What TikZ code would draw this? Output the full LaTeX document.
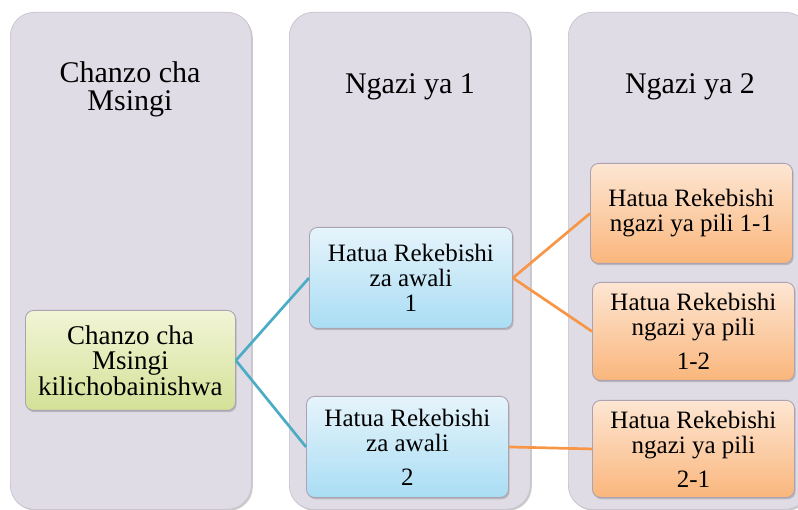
\documentclass[tikz,border=0pt]{standalone}
\usepackage{fontspec}
\setmainfont{Liberation Serif}
\usetikzlibrary{shadows}
\definecolor{colfill}{HTML}{E0DCE6}
\definecolor{colline}{HTML}{C4BECC}
\definecolor{greentop}{HTML}{F2F5D6}
\definecolor{greenbot}{HTML}{D3E197}
\definecolor{bluetop}{HTML}{E6F4FB}
\definecolor{bluebot}{HTML}{A9DDF4}
\definecolor{orangetop}{HTML}{FDE6D3}
\definecolor{orangebot}{HTML}{FAB67C}
\definecolor{boxline}{HTML}{ABA3B2}
\definecolor{linkblue}{HTML}{4BACC6}
\definecolor{linkorange}{HTML}{F79646}
\tikzset{
  column/.style={fill=colfill, draw=colline, line width=0.6pt, rounded corners=24pt,
    drop shadow={shadow xshift=1.5pt, shadow yshift=-1.5pt, opacity=0.4},
    minimum width=241pt, minimum height=497pt, anchor=north west, inner sep=0pt},
  header/.style={align=center, font=\fontsize{30}{28}\selectfont, inner sep=0pt},
  itembox/.style={draw=boxline, line width=0.9pt, rounded corners=8pt,
    drop shadow={shadow xshift=1.2pt, shadow yshift=-1.8pt, opacity=0.4},
    anchor=north west, inner sep=0pt},
  itemtext/.style={align=center, inner sep=0pt},
  greenbox/.style={itembox, top color=greentop, bottom color=greenbot},
  bluebox/.style={itembox, top color=bluetop, bottom color=bluebot},
  orangebox/.style={itembox, top color=orangetop, bottom color=orangebot},
  bluelink/.style={draw=linkblue, line width=2.7pt},
  orangelink/.style={draw=linkorange, line width=2.7pt},
}
\begin{document}
\begin{tikzpicture}[x=1pt, y=-1pt]
  \useasboundingbox (0,0) rectangle (798,510);
  \begin{scope}
    \clip (0,0) rectangle (798,510);
    % the three stage columns
    \node[column] (c1) at (10,12) {};
    \node[column] (c2) at (289,12) {};
    \node[column] (c3) at (568,12) {};
  \end{scope}

  % column headings
  \node[header] (h1) at (130,89) {Chanzo cha\\Msingi};
  \node[header] (h2) at (410,87) {Ngazi ya 1};
  \node[header] (h3) at (690,87) {Ngazi ya 2};

  % boxes
  \node[greenbox, minimum width=210pt, minimum height=100pt] (g) at (25,310) {};
  \node[itemtext, font=\fontsize{27}{25.5}\selectfont] at (g.center) {Chanzo cha\\Msingi\\kilichobainishwa};

  \node[bluebox, minimum width=203pt, minimum height=101pt] (b1) at (309,227) {};
  \node[itemtext, font=\fontsize{25}{25}\selectfont] at (b1.center) {Hatua Rekebishi\\za awali\\1};

  \node[bluebox, minimum width=202pt, minimum height=101pt] (b2) at (306,396) {};
  \node[itemtext, font=\fontsize{25}{25}\selectfont] at (b2.center) {Hatua Rekebishi\\za awali\\[9pt]2};

  \node[orangebox, minimum width=202pt, minimum height=100pt] (o1) at (590,163) {};
  \node[itemtext, font=\fontsize{25}{25}\selectfont] at (o1.center) {Hatua Rekebishi\\ngazi ya pili 1-1};

  \node[orangebox, minimum width=202pt, minimum height=98pt] (o2) at (592,282) {};
  \node[itemtext, font=\fontsize{25}{25}\selectfont] at (o2.center) {Hatua Rekebishi\\ngazi ya pili\\[9pt]1-2};

  \node[orangebox, minimum width=202pt, minimum height=97pt] (o3) at (592,400) {};
  \node[itemtext, font=\fontsize{25}{25}\selectfont] at (o3.center) {Hatua Rekebishi\\ngazi ya pili\\[9pt]2-1};

  % connectors
  \draw[bluelink] (g.east) -- (b1.west);
  \draw[bluelink] (g.east) -- (b2.west);
  \draw[orangelink] (b1.east) -- (o1.west);
  \draw[orangelink] (b1.east) -- (o2.west);
  \draw[orangelink] (b2.east) -- (o3.west);
\end{tikzpicture}
\end{document}
